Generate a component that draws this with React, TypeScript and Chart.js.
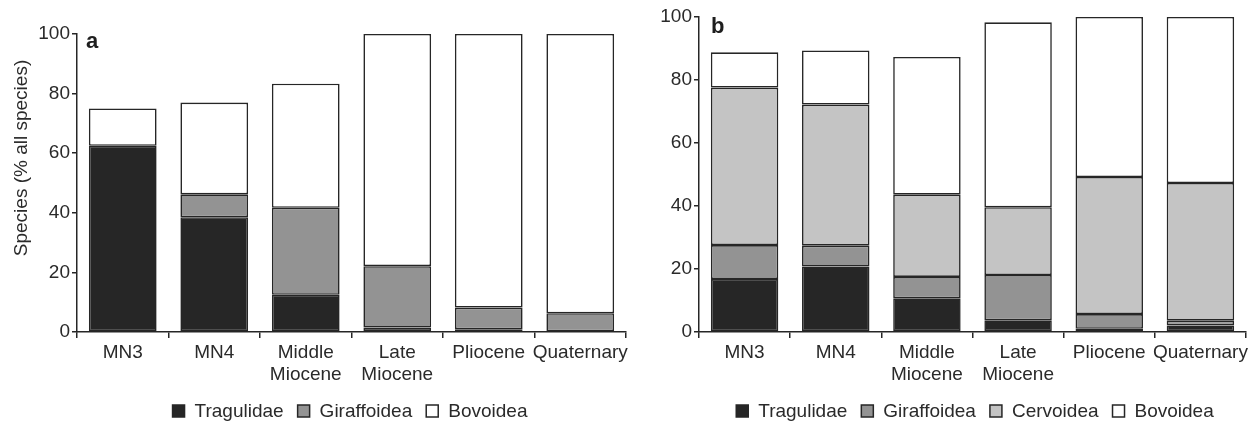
import React, { useEffect, useRef } from 'react';
import { Chart, registerables } from 'chart.js';
Chart.register(...registerables);

const categories = [['MN3'], ['MN4'], ['Middle', 'Miocene'], ['Late', 'Miocene'], ['Pliocene'], ['Quaternary']];

// Panel a (% of all species)
const aTragulidae = [62.5, 38.5, 12.5, 1.5, 0.9, 0];
const aGiraffoidea = [0, 7.7, 29.2, 20.6, 7.3, 6.3];
const aBovoidea = [12.5, 30.8, 41.6, 77.9, 91.8, 93.7];

// Panel b
const bTragulidae = [16.8, 20.8, 10.7, 3.7, 1.0, 2.1];
const bGiraffoidea = [10.8, 6.6, 6.8, 14.4, 4.7, 1.5];
const bCervoidea = [50.0, 44.8, 26.1, 21.5, 43.5, 43.7];
const bBovoidea = [11.2, 17.2, 43.7, 58.7, 50.8, 52.7];

const yMin = 0;
const yMax = 100;
const yStep = 20;

const FAMILY = "'Liberation Sans', Arial, sans-serif";
const TEXT = '#2a2a2a';
const EDGE = '#262626';
const C_TRAG = '#262626';
const C_GIR = '#939393';
const C_CERV = '#c4c4c4';
const C_BOV = '#ffffff';

type Series = { label: string; data: number[]; color: string };

function makePlugin(panel: string, panelX: number, panelY: number, legendCx: number, legendCy: number, series: Series[], yTitle: string | null, yTitleX: number, yTitleY: number) {
  return {
    id: 'custom_' + panel,
    afterDraw(chart: any) {
      const ctx = chart.ctx as CanvasRenderingContext2D;
      ctx.save();
      // panel label
      ctx.fillStyle = '#1e1e1e';
      ctx.font = `bold 22px ${FAMILY}`;
      ctx.textAlign = 'left';
      ctx.textBaseline = 'alphabetic';
      ctx.fillText(panel, panelX, panelY);
      // y title
      if (yTitle) {
        ctx.save();
        ctx.translate(yTitleX, yTitleY);
        ctx.rotate(-Math.PI / 2);
        ctx.font = `19px ${FAMILY}`;
        ctx.fillStyle = TEXT;
        ctx.textAlign = 'center';
        ctx.textBaseline = 'middle';
        ctx.fillText(yTitle, 0, 0);
        ctx.restore();
      }
      // legend
      ctx.font = `19px ${FAMILY}`;
      const box = 12;
      const gap = 10;
      const itemGap = 14;
      const widths = series.map((s) => ctx.measureText(s.label).width);
      const total = widths.reduce((a, w) => a + box + gap + w, 0) + itemGap * (series.length - 1);
      let x = legendCx - total / 2;
      series.forEach((s, i) => {
        ctx.fillStyle = s.color;
        ctx.fillRect(x, legendCy - box / 2, box, box);
        ctx.strokeStyle = EDGE;
        ctx.lineWidth = 1.5;
        ctx.strokeRect(x, legendCy - box / 2, box, box);
        ctx.fillStyle = TEXT;
        ctx.textAlign = 'left';
        ctx.textBaseline = 'middle';
        ctx.fillText(s.label, x + box + gap, legendCy + 1);
        x += box + gap + widths[i] + itemGap;
      });
      ctx.restore();
    },
  };
}

function buildConfig(series: Series[], yWidth: number, pad: { top: number; right: number }, plugin: any) {
  return {
    type: 'bar' as const,
    data: {
      labels: categories,
      datasets: series.map((s) => ({
        label: s.label,
        data: s.data,
        backgroundColor: s.color,
        borderColor: EDGE,
        borderWidth: 1.6,
        borderSkipped: false,
        barPercentage: 0.74,
        categoryPercentage: 1,
      })),
    },
    options: {
      animation: false,
      responsive: false,
      maintainAspectRatio: false,
      layout: { padding: { left: 0, right: pad.right, top: pad.top, bottom: 0 } },
      plugins: { legend: { display: false }, tooltip: { enabled: false }, title: { display: false } },
      scales: {
        x: {
          stacked: true,
          grid: { display: true, drawOnChartArea: false, drawTicks: true, tickLength: 6, color: EDGE, lineWidth: 1.5, offset: true },
          border: { display: true, color: EDGE, width: 1.5 },
          ticks: { color: TEXT, font: { family: FAMILY, size: 19, lineHeight: 1.2 }, padding: 3, maxRotation: 0, autoSkip: false },
          afterFit: (s: any) => { s.height = 89; },
        },
        y: {
          stacked: true,
          min: yMin,
          max: yMax,
          grid: { display: true, drawOnChartArea: false, drawTicks: true, tickLength: 5, color: EDGE, lineWidth: 1.5 },
          border: { display: true, color: EDGE, width: 1.5 },
          ticks: { stepSize: yStep, color: TEXT, font: { family: FAMILY, size: 19 }, padding: 2 },
          afterFit: (s: any) => { s.width = yWidth; },
        },
      },
    },
    plugins: [plugin],
  };
}

export default function App() {
  const refA = useRef<HTMLCanvasElement>(null);
  const refB = useRef<HTMLCanvasElement>(null);

  useEffect(() => {
    const seriesA: Series[] = [
      { label: 'Tragulidae', data: aTragulidae, color: C_TRAG },
      { label: 'Giraffoidea', data: aGiraffoidea, color: C_GIR },
      { label: 'Bovoidea', data: aBovoidea, color: C_BOV },
    ];
    const seriesB: Series[] = [
      { label: 'Tragulidae', data: bTragulidae, color: C_TRAG },
      { label: 'Giraffoidea', data: bGiraffoidea, color: C_GIR },
      { label: 'Cervoidea', data: bCervoidea, color: C_CERV },
      { label: 'Bovoidea', data: bBovoidea, color: C_BOV },
    ];
    const pa = makePlugin('a', 86, 48, 350, 411, seriesA, 'Species (% all species)', 22, 158);
    const pb = makePlugin('b', 71, 33, 335, 411, seriesB, null, 0, 0);
    const ca = new Chart(refA.current as HTMLCanvasElement, buildConfig(seriesA, 77, { top: 34, right: 14 }, pa) as any);
    const cb = new Chart(refB.current as HTMLCanvasElement, buildConfig(seriesB, 59, { top: 17, right: 13 }, pb) as any);
    return () => { ca.destroy(); cb.destroy(); };
  }, []);

  return (
    <div style={{ position: 'fixed', left: 0, top: 0, width: 1259, height: 421, background: '#fff' }}>
      <canvas ref={refA} width={640} height={421} style={{ position: 'absolute', left: 0, top: 0, width: 640, height: 421 }} />
      <canvas ref={refB} width={619} height={421} style={{ position: 'absolute', left: 640, top: 0, width: 619, height: 421 }} />
    </div>
  );
}
